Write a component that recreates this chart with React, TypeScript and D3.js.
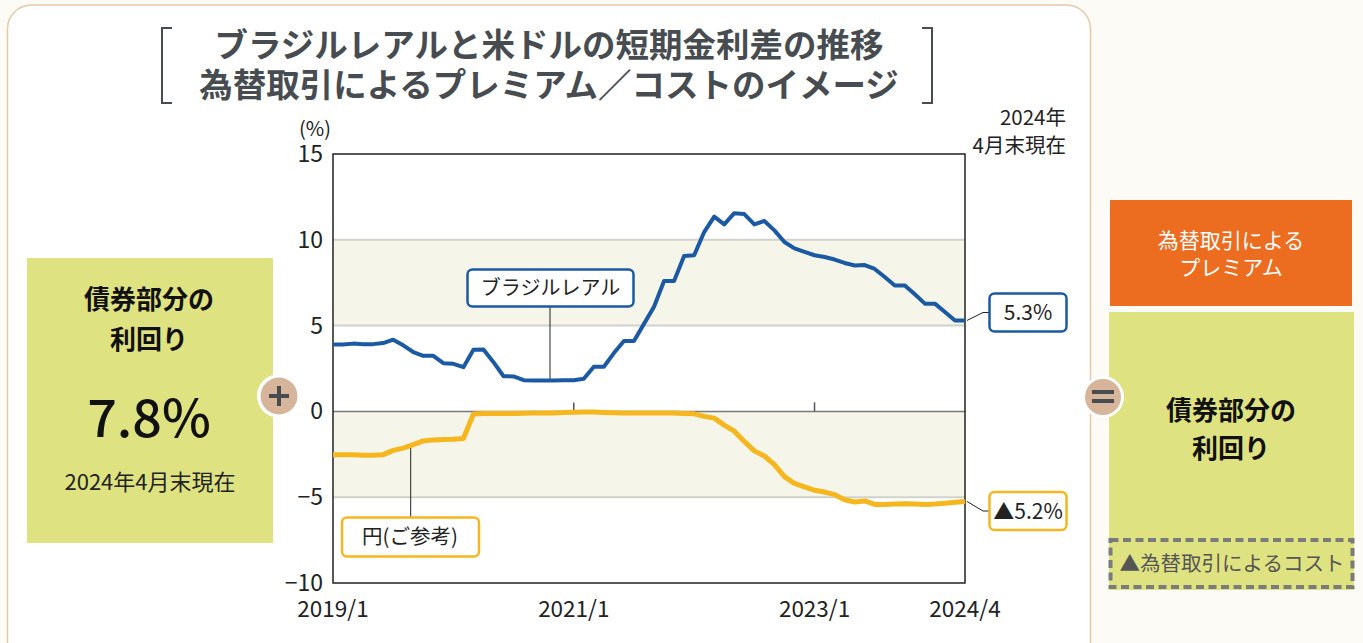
import React from "react";
import * as d3 from "d3";

// ---- data ----
const months: string[] = d3
  .timeMonth.range(new Date(2019, 0, 1), new Date(2024, 4, 1))
  .map((d) => `${d.getFullYear()}/${d.getMonth() + 1}`);

const brlDiff: number[] = [
  3.9, 3.9, 3.95, 3.92, 3.92, 3.98, 4.18, 3.85, 3.46, 3.24, 3.24, 2.81, 2.77, 2.58, 3.59, 3.6,
  2.87, 2.05, 2.04, 1.82, 1.8, 1.8, 1.8, 1.81, 1.82, 1.9, 2.6, 2.6, 3.4, 4.1, 4.1, 5.1,
  6.1, 7.6, 7.6, 9.05, 9.1, 10.45, 11.35, 10.9, 11.55, 11.5, 10.9, 11.1, 10.55, 9.87, 9.5, 9.3,
  9.1, 9.0, 8.85, 8.65, 8.5, 8.53, 8.3, 7.83, 7.34, 7.34, 6.82, 6.28, 6.28, 5.79, 5.3, 5.3,
];

const jpyDiff: number[] = [
  -2.52, -2.52, -2.52, -2.55, -2.55, -2.52, -2.27, -2.14, -1.94, -1.72, -1.66, -1.64, -1.62, -1.58, -0.15, -0.12,
  -0.12, -0.12, -0.12, -0.11, -0.1, -0.1, -0.09, -0.07, -0.05, -0.04, -0.04, -0.06, -0.08, -0.09, -0.1, -0.1,
  -0.1, -0.1, -0.1, -0.12, -0.14, -0.29, -0.39, -0.8, -1.15, -1.75, -2.3, -2.6, -3.1, -3.8, -4.2, -4.4,
  -4.6, -4.7, -4.85, -5.15, -5.28, -5.22, -5.42, -5.42, -5.4, -5.38, -5.4, -5.42, -5.4, -5.35, -5.3, -5.25,
];

const yTicks: number[] = [15, 10, 5, 0, -5, -10];
const xTickLabels: string[] = ["2019/1", "2021/1", "2023/1", "2024/4"];
const bands: [number, number][] = [[5, 10], [-5, 0]];
const titleLines: string[] = [
  "ブラジルレアルと米ドルの短期金利差の推移",
  "為替取引によるプレミアム／コストのイメージ",
];
const brlLabel = "ブラジルレアル";
const jpyLabel = "円(ご参考)";
const brlEndLabel = "5.3%";
const jpyEndLabel = "▲5.2%";
const bondYield = "7.8%";

const FONT = "'Noto Sans CJK JP', 'Noto Sans', sans-serif";
const BLUE = "#1b5aa2";
const YELLOW = "#f6b61e";
const GREEN = "#dfe280";
const ORANGE = "#ec6d1f";
const TAN = "#d6b59b";
const DARK = "#474c51";

export default function App() {
  const x = d3.scalePoint<string>().domain(months).range([333, 965]);
  const y = d3.scaleLinear().domain([-10, 15]).range([583, 154]);
  const line = d3
    .line<number>()
    .x((_, i) => x(months[i]) as number)
    .y((d) => y(d));

  const x0 = 333, x1 = 965;
  const last = months.length - 1;
  const endX = x(months[last]) as number;
  const brlEndY = y(brlDiff[last]);
  const jpyEndY = y(jpyDiff[last]);

  return (
    <svg
      width={1363}
      height={643}
      style={{ position: "absolute", left: 0, top: 0, fontFamily: FONT }}
    >
      <rect x={0} y={0} width={1363} height={643} fill="#fcfbf5" />
      <rect x={7.5} y={5} width={1083} height={720} rx={24} fill="#ffffff" stroke="#e6c8aa" strokeWidth={1.5} />

      {/* title */}
      <text fill={DARK} fontWeight={700} fontSize={33.5} textAnchor="middle">
        <tspan x={549} y={57}>{titleLines[0]}</tspan>
        <tspan x={549} y={97}>{titleLines[1]}</tspan>
      </text>
      <path d="M172,28 H162 V103 H172" fill="none" stroke={DARK} strokeWidth={2} />
      <path d="M922,28 H932 V103 H922" fill="none" stroke={DARK} strokeWidth={2} />

      {/* bands */}
      {bands.map(([a, b], i) => (
        <rect key={i} x={x0} y={y(b)} width={x1 - x0} height={y(a) - y(b)} fill="#f5f5ea" />
      ))}
      {/* gridlines */}
      {yTicks.filter((t) => t !== 15 && t !== -10 && t !== 0).map((t) => (
        <line key={t} x1={x0} x2={x1} y1={y(t)} y2={y(t)} stroke="#d2d2cc" strokeWidth={2} />
      ))}
      <line x1={x0} x2={x1} y1={y(0)} y2={y(0)} stroke="#7a7a7a" strokeWidth={1.5} />
      {["2021/1", "2023/1"].map((m) => (
        <line key={m} x1={x(m)} x2={x(m)} y1={y(0) - 9} y2={y(0)} stroke="#555" strokeWidth={1.5} />
      ))}
      <rect x={x0} y={y(15)} width={x1 - x0} height={y(-10) - y(15)} fill="none" stroke="#222" strokeWidth={1.5} />

      {/* y tick labels */}
      <g fontSize={23} fill="#222" textAnchor="end">
        {yTicks.map((t) => (
          <text key={t} x={323} y={y(t) + 8}>{t < 0 ? `−${Math.abs(t)}` : t}</text>
        ))}
      </g>
      <text x={315} y={136} fontSize={20} fill="#222" textAnchor="middle">(%)</text>
      {/* x tick labels */}
      <g fontSize={22.5} fill="#222" textAnchor="middle">
        {xTickLabels.map((m) => (
          <text key={m} x={x(m)} y={617}>{m}</text>
        ))}
      </g>
      <text fontSize={20.5} fill="#222" textAnchor="end">
        <tspan x={1066} y={125}>2024年</tspan>
        <tspan x={1066} y={153}>4月末現在</tspan>
      </text>

      {/* leader lines */}
      <line x1={550} x2={550} y1={307} y2={y(1.8)} stroke="#222" strokeWidth={1} />
      <line x1={410.7} x2={410.7} y1={y(-2.1)} y2={517} stroke="#222" strokeWidth={1} />
      <path d={`M${endX + 2},${brlEndY} L983,312.5 H989`} fill="none" stroke="#222" strokeWidth={1} />
      <path d={`M${endX + 2},${jpyEndY} L983,511 H989`} fill="none" stroke="#222" strokeWidth={1} />

      {/* lines */}
      <path d={line(jpyDiff) ?? ""} fill="none" stroke={YELLOW} strokeWidth={5} strokeLinejoin="round" />
      <path d={line(brlDiff) ?? ""} fill="none" stroke={BLUE} strokeWidth={4} strokeLinejoin="round" />

      {/* label boxes */}
      <rect x={467.5} y={269.5} width={166} height={37} rx={5} fill="#fff" stroke={BLUE} strokeWidth={2.5} />
      <text x={550.5} y={295} fontSize={20} fill="#222" textAnchor="middle">{brlLabel}</text>
      <rect x={342} y={517.5} width={137} height={39} rx={5} fill="#fff" stroke={YELLOW} strokeWidth={2.5} />
      <text x={410} y={544} fontSize={20.5} fill="#222" textAnchor="middle">{jpyLabel}</text>
      <rect x={989.5} y={293.5} width={77} height={38} rx={5} fill="#fff" stroke={BLUE} strokeWidth={2.5} />
      <text x={1028} y={320} fontSize={21} fill="#222" textAnchor="middle">{brlEndLabel}</text>
      <rect x={989.5} y={492} width={77} height={38} rx={5} fill="#fff" stroke={YELLOW} strokeWidth={2.5} />
      <text x={1028} y={518.5} fontSize={21} fill="#222" textAnchor="middle">{jpyEndLabel}</text>

      {/* left yield box */}
      <rect x={27} y={258} width={246} height={285} fill={GREEN} />
      <text fill="#111" textAnchor="middle" fontSize={26} fontWeight={700}>
        <tspan x={149} y={309}>債券部分の</tspan>
        <tspan x={149} y={349}>利回り</tspan>
      </text>
      <text x={149} y={437} fontSize={52} fontWeight={500} fill="#111" textAnchor="middle">{bondYield}</text>
      <text x={150} y={490} fontSize={22} fill="#222" textAnchor="middle">2024年4月末現在</text>
      <circle cx={279} cy={396} r={22} fill="#fff" />
      <circle cx={279} cy={396} r={18.5} fill={TAN} />
      <path d="M269,396 H289 M279,386 V406" stroke={DARK} strokeWidth={4} />

      {/* right boxes */}
      <rect x={1110} y={200} width={242} height={106} fill={ORANGE} />
      <text fill="#fff" fontSize={21} textAnchor="middle">
        <tspan x={1231} y={248}>為替取引による</tspan>
        <tspan x={1231} y={275}>プレミアム</tspan>
      </text>
      <rect x={1109} y={312} width={245} height={278} fill={GREEN} />
      <text fill="#111" textAnchor="middle" fontSize={26} fontWeight={700}>
        <tspan x={1231} y={420}>債券部分の</tspan>
        <tspan x={1231} y={458}>利回り</tspan>
      </text>
      <rect x={1110.5} y={540} width={242} height={47} fill="none" stroke="#7b7b7b" strokeWidth={4} strokeDasharray="8 4.5" />
      <text x={1232} y={570.5} fontSize={20.5} fill="#555" textAnchor="middle">▲為替取引によるコスト</text>
      <circle cx={1103} cy={397} r={21} fill="#fff" />
      <circle cx={1103} cy={397} r={18} fill={TAN} />
      <path d="M1092,392 H1114 M1092,401 H1114" stroke={DARK} strokeWidth={4} />
    </svg>
  );
}
